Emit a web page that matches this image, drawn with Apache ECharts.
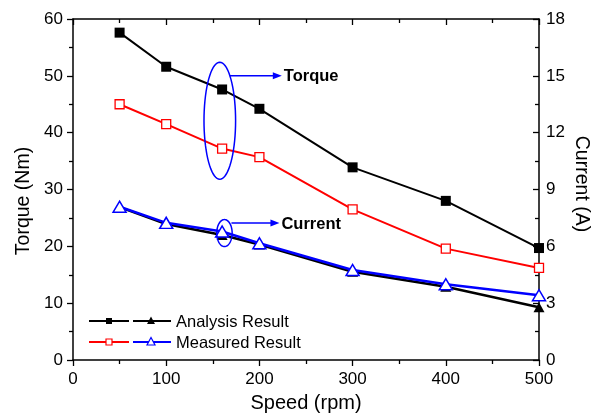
<!DOCTYPE html>
<html>
<head>
<meta charset="utf-8">
<script src="https://cdn.jsdelivr.net/npm/echarts@6/dist/echarts.min.js"></script>
<style>html,body{margin:0;padding:0;background:#fff}#c{width:602px;height:416px}</style>
</head>
<body>
<div id="c"></div>
<script>
// Data (speed in rpm)
var speeds = [50, 100, 160, 200, 300, 400, 500];
var analysisTorque = [57.6, 51.6, 47.6, 44.2, 33.9, 28.0, 19.7];
var measuredTorque = [45.0, 41.5, 37.2, 35.7, 26.5, 19.6, 16.2];
var analysisCurrent = [8.07, 7.18, 6.60, 6.10, 4.66, 3.87, 2.78];
var measuredCurrent = [8.09, 7.24, 6.78, 6.16, 4.75, 4.00, 3.42];
var xTicks = [0, 100, 200, 300, 400, 500];
var torqueTicks = [0, 10, 20, 30, 40, 50, 60];
var currentTicks = [0, 3, 6, 9, 12, 15, 18];
var legendLabels = ['Analysis Result', 'Measured Result'];
var noteLabels = ['Torque', 'Current'];
// annotation anchors in data units: [speed, axis value]
var torqueNote = [157.5, 42.1];
var currentNoteCurrent = [162.5, 6.7];

function pairs(xs, ys) { return xs.map(function (x, i) { return [x, ys[i]]; }); }

var FONT = '"Liberation Sans", Arial, sans-serif';
var chart = echarts.init(document.getElementById('c'), null, { renderer: 'canvas' });

function axisCommon(extra) {
  var base = {
    type: 'value',
    axisLine: { show: true, onZero: false, lineStyle: { color: '#000', width: 1.5 } },
    axisTick: { show: true, length: 6, lineStyle: { color: '#000', width: 1.3 } },
    minorTick: { show: true, splitNumber: 2, length: 4, lineStyle: { color: '#000', width: 1.3 } },
    splitLine: { show: false },
    axisLabel: { color: '#000', fontSize: 17, fontFamily: FONT }
  };
  for (var k in extra) base[k] = extra[k];
  return base;
}

var option = {
  animation: false,
  backgroundColor: '#fff',
  grid: { left: 73, right: 63, top: 19, bottom: 56, containLabel: false },
  xAxis: [
    axisCommon({ position: 'bottom', min: xTicks[0], max: xTicks[xTicks.length - 1], interval: xTicks[1] - xTicks[0],
      axisLabel: { color: '#000', fontSize: 17, fontFamily: FONT, margin: 11 } }),
    axisCommon({ position: 'top', min: xTicks[0], max: xTicks[xTicks.length - 1], interval: xTicks[1] - xTicks[0],
      axisLabel: { show: false },
      axisTick: { show: true, inside: true, length: 6, lineStyle: { color: '#000', width: 1.3 } } })
  ],
  yAxis: [
    axisCommon({ position: 'left', min: torqueTicks[0], max: torqueTicks[torqueTicks.length - 1], interval: torqueTicks[1] - torqueTicks[0],
      axisLabel: { color: '#000', fontSize: 17, fontFamily: FONT, margin: 10 } }),
    axisCommon({ position: 'right', min: currentTicks[0], max: currentTicks[currentTicks.length - 1], interval: currentTicks[1] - currentTicks[0],
      axisTick: { show: true, inside: true, length: 6, lineStyle: { color: '#000', width: 1.3 } },
      axisLabel: { color: '#000', fontSize: 17, fontFamily: FONT, margin: 7 } })
  ],
  series: [
    { type: 'line', name: 'Analysis Torque', xAxisIndex: 0, yAxisIndex: 0, data: pairs(speeds, analysisTorque),
      symbol: 'rect', symbolSize: 10, lineStyle: { color: '#000', width: 2 },
      itemStyle: { color: '#000', borderWidth: 0 }, z: 3 },
    { type: 'line', name: 'Measured Torque', xAxisIndex: 0, yAxisIndex: 0, data: pairs(speeds, measuredTorque),
      symbol: 'rect', symbolSize: 9, lineStyle: { color: '#ff0000', width: 2 },
      itemStyle: { color: '#fff', borderColor: '#ff0000', borderWidth: 1.3 }, z: 3 },
    { type: 'line', name: 'Analysis Current', xAxisIndex: 0, yAxisIndex: 1, data: pairs(speeds, analysisCurrent),
      symbol: 'triangle', symbolSize: [11, 10], lineStyle: { color: '#000', width: 2.5 },
      itemStyle: { color: '#000', borderWidth: 0 }, z: 3 },
    { type: 'line', name: 'Measured Current', xAxisIndex: 0, yAxisIndex: 1, data: pairs(speeds, measuredCurrent),
      symbol: 'triangle', symbolSize: [13, 11], lineStyle: { color: '#0000ff', width: 2.5 },
      itemStyle: { color: '#fff', borderColor: '#0000ff', borderWidth: 1.5 }, z: 4 }
  ]
};
chart.setOption(option);

function ellipsePts(cx, cy, rx, ry) {
  var pts = [];
  for (var i = 0; i < 72; i++) {
    var a = i / 72 * Math.PI * 2;
    pts.push([cx + rx * Math.cos(a), cy + ry * Math.sin(a)]);
  }
  return pts;
}
function arrow(x1, y, x2, color) {
  return [
    { type: 'line', shape: { x1: x1, y1: y, x2: x2 - 6, y2: y }, style: { stroke: color, lineWidth: 1.5 }, z: 10 },
    { type: 'polygon', shape: { points: [[x2, y], [x2 - 9, y - 3.5], [x2 - 9, y + 3.5]] }, style: { fill: color }, z: 10 }
  ];
}

var tp = chart.convertToPixel({ xAxisIndex: 0, yAxisIndex: 0 }, torqueNote);
var cp = chart.convertToPixel({ xAxisIndex: 0, yAxisIndex: 1 }, currentNoteCurrent);
var blue = '#0000ff';
var g = [];
// Torque ellipse + arrow + label
g.push({ type: 'polygon', shape: { points: ellipsePts(tp[0], tp[1], 15.8, 58.5) }, style: { fill: 'none', stroke: blue, lineWidth: 1.5 }, z: 10 });
g = g.concat(arrow(tp[0] + 10, tp[1] - 45, tp[0] + 62, blue));
g.push({ type: 'text', x: tp[0] + 64, y: tp[1] - 44, style: { text: noteLabels[0], fill: '#000', font: 'bold 16.5px ' + FONT, textAlign: 'left', textVerticalAlign: 'middle' }, z: 10 });
// Current ellipse + arrow + label
g.push({ type: 'polygon', shape: { points: ellipsePts(cp[0], cp[1], 7.7, 13.5) }, style: { fill: 'none', stroke: blue, lineWidth: 1.5 }, z: 10 });
g = g.concat(arrow(cp[0] + 7, cp[1] - 10, cp[0] + 55, blue));
g.push({ type: 'text', x: cp[0] + 57, y: cp[1] - 9, style: { text: noteLabels[1], fill: '#000', font: 'bold 16.5px ' + FONT, textAlign: 'left', textVerticalAlign: 'middle' }, z: 10 });

// Axis titles
g.push({ type: 'text', x: 306, y: 403, style: { text: 'Speed (rpm)', fill: '#000', font: '20px ' + FONT, textAlign: 'center', textVerticalAlign: 'middle' }, z: 10 });
g.push({ type: 'text', x: 24, y: 201, rotation: Math.PI / 2, style: { text: 'Torque (Nm)', fill: '#000', font: '19.5px ' + FONT, textAlign: 'center', textVerticalAlign: 'middle' }, z: 10 });
g.push({ type: 'text', x: 581, y: 184, rotation: -Math.PI / 2, style: { text: 'Current (A)', fill: '#000', font: '19.5px ' + FONT, textAlign: 'center', textVerticalAlign: 'middle' }, z: 10 });

// Legend
var rows = [
  { y: 321, c1: '#000', c2: '#000', hollow: false, text: legendLabels[0] },
  { y: 342, c1: '#ff0000', c2: '#0000ff', hollow: true, text: legendLabels[1] }
];
rows.forEach(function (r) {
  g.push({ type: 'line', shape: { x1: 89, y1: r.y, x2: 129, y2: r.y }, style: { stroke: r.c1, lineWidth: 2 }, z: 10 });
  g.push({ type: 'line', shape: { x1: 133, y1: r.y, x2: 171, y2: r.y }, style: { stroke: r.c2, lineWidth: 2 }, z: 10 });
  g.push({ type: 'rect', shape: { x: 106, y: r.y - 3, width: 6, height: 6 },
    style: r.hollow ? { fill: '#fff', stroke: r.c1, lineWidth: 1.2 } : { fill: r.c1 }, z: 11 });
  g.push({ type: 'polygon', shape: { points: [[151, r.y - 4.5], [147, r.y + 3], [155, r.y + 3]] },
    style: r.hollow ? { fill: '#fff', stroke: r.c2, lineWidth: 1.2 } : { fill: r.c2 }, z: 11 });
  g.push({ type: 'text', x: 176, y: r.y + 1, style: { text: r.text, fill: '#000', font: '16.5px ' + FONT, textAlign: 'left', textVerticalAlign: 'middle' }, z: 10 });
});
chart.setOption({ graphic: g });
</script>
</body>
</html>
